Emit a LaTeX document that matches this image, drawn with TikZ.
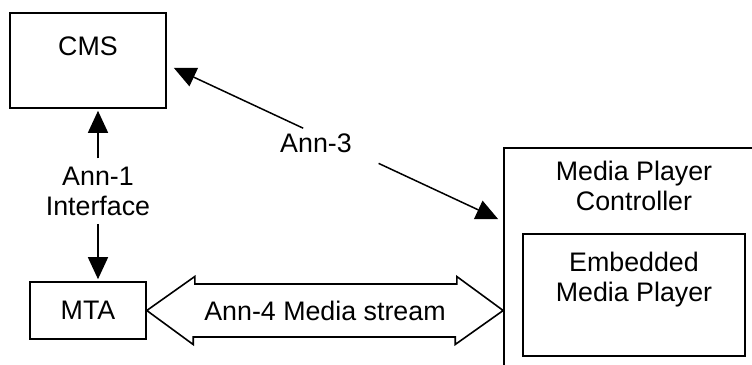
\documentclass[tikz,border=0pt]{standalone}
\usepackage{fontspec}
\setmainfont{Liberation Sans}
\usetikzlibrary{arrows.meta,positioning,calc}

\begin{document}
\begin{tikzpicture}[node distance=10pt,
  font=\fontsize{13.4}{15}\selectfont,
  box/.style={draw, line width=0.8pt, rectangle, inner sep=0pt},
  lbl/.style={inner sep=0pt, align=center},
  arr/.style={-{Triangle[length=11pt,width=10pt]}, line width=0.75pt, shorten >=1pt},
  fat/.style={draw, line width=0.8pt, line join=miter}]

  \useasboundingbox (0,0) rectangle (376pt,-182.5pt);
  \clip (0,0) rectangle (376pt,-182.5pt);

  % ── Left column: CMS and MTA ─────────────────────────────────
  \node[box, minimum width=78pt, minimum height=47.5pt] (cms) at (44pt,-30.25pt) {};
  \node[lbl, below=12pt of cms.north]                     (cmstxt) {CMS};
  \node[box, minimum width=58pt, minimum height=28.5pt] (mta) at (44pt,-155.25pt) {MTA};

  % ── Right side: controller (runs off the page) ───────────────
  \node[box, minimum width=148pt, minimum height=136pt] (ctrl) at (326pt,-142pt) {};
  \node[box, minimum width=111pt, minimum height=61pt]  (emb)  at (317pt,-147.5pt) {};
  \node[lbl, below=9pt of emb.north]                      (embtxt)  {Embedded\\Media Player};
  \node[lbl, above=11pt of emb]                           (ctrltxt) {Media Player\\Controller};

  % ── Ann-1: CMS <-> MTA ───────────────────────────────────────
  \node[lbl, inner sep=4pt] (ann1) at (49pt,-95.5pt) {Ann-1\\Interface};
  \draw[arr] (ann1) -- (ann1 |- cms.south);
  \draw[arr] (ann1) -- (ann1 |- mta.north);

  % ── Ann-3: CMS <-> controller ────────────────────────────────
  \coordinate (a3s) at (86pt,-33.5pt);
  \coordinate (a3e) at (250pt,-110pt);
  \node[lbl] (ann3) at (158pt,-71.5pt) {Ann-3};
  \draw[arr] ($(a3s)!0.4!(a3e)$)  -- (a3s);
  \draw[arr] ($(a3s)!0.63!(a3e)$) -- (a3e);

  % ── Ann-4: media stream (hollow double arrow) ────────────────
  \node[lbl] (stream) at (162.5pt,-155.25pt) {Ann-4 Media stream};
  \draw[fat] (mta.east) -- ++(24pt,17pt) -- ++(0,-3.75pt) -- ++(131pt,0)
    -- ++(0,3.75pt) -- (ctrl.west |- mta.east) -- ++(-24pt,-17pt)
    -- ++(0,3.75pt) -- ++(-131pt,0) -- ++(0,-3.75pt) -- cycle;

\end{tikzpicture}
\end{document}
